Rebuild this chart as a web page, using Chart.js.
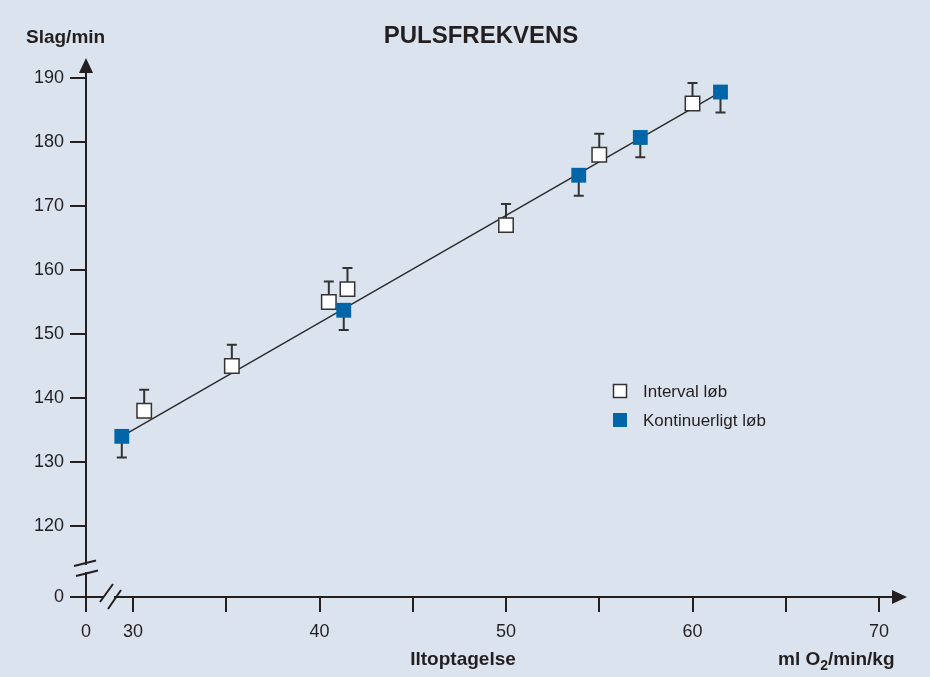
<!DOCTYPE html>
<html>
<head>
<meta charset="utf-8">
<script src="https://cdn.jsdelivr.net/npm/chart.js@4.4.0/dist/chart.umd.min.js"></script>
<style>
  html, body { margin: 0; padding: 0; background: #dbe3ef; }
  #wrap { width: 930px; height: 677px; position: relative; }
</style>
</head>
<body>
<div id="wrap"><canvas id="chart" width="930" height="677"></canvas></div>
<script>
// data
const xTicks = [30, 35, 40, 45, 50, 55, 60, 65, 70];
const yTicks = [120, 130, 140, 150, 160, 170, 180, 190];

const intervalX = [30.6, 35.3, 40.5, 41.5, 50.0, 55.0, 60.0];
const intervalY = [138, 145, 155, 157, 167, 178, 186];
const intervalErr = [3.3, 3.3, 3.2, 3.3, 3.3, 3.3, 3.2];

const kontX = [29.4, 41.3, 53.9, 57.2, 61.5];
const kontY = [134, 153.7, 174.8, 180.7, 187.8];
const kontErr = [3.3, 3.1, 3.2, 3.1, 3.2];

const lineX = [29.4, 61.5];
const lineY = [134, 187.8];

// the broken axes: where the "0" sits on each scale
const xZero = 27.48;
const yZero = 108.9;

const BG = "#dbe3ef";
const INK = "#231f20";
const BLUE = "#0066a9";
const FONT = "'Liberation Sans', Arial, sans-serif";

function pts(xs, ys) {
  return xs.map(function (x, i) { return { x: x, y: ys[i] }; });
}

// error bars, axis arrows, axis breaks, titles, legend
const extras = {
  id: "extras",
  beforeDatasetsDraw: function (chart) {
    const ctx = chart.ctx;
    const xs = chart.scales.x, ys = chart.scales.y;
    ctx.save();
    ctx.strokeStyle = "#333";
    ctx.lineWidth = 2;
    function bar(x, y, err, dir) {
      const px = xs.getPixelForValue(x);
      const py = ys.getPixelForValue(y);
      const pe = ys.getPixelForValue(y + dir * err);
      ctx.beginPath();
      ctx.moveTo(px, py);
      ctx.lineTo(px, pe);
      ctx.moveTo(px - 5, pe);
      ctx.lineTo(px + 5, pe);
      ctx.stroke();
    }
    intervalX.forEach(function (x, i) { bar(x, intervalY[i], intervalErr[i], 1); });
    kontX.forEach(function (x, i) { bar(x, kontY[i], kontErr[i], -1); });
    ctx.restore();
  },
  afterDraw: function (chart) {
    const ctx = chart.ctx;
    const a = chart.chartArea;
    ctx.save();
    ctx.fillStyle = INK;
    ctx.strokeStyle = INK;

    // arrow heads
    ctx.beginPath();
    ctx.moveTo(a.left - 7, a.top + 1);
    ctx.lineTo(a.left + 7, a.top + 1);
    ctx.lineTo(a.left, a.top - 14);
    ctx.closePath();
    ctx.fill();
    ctx.beginPath();
    ctx.moveTo(a.right - 1, a.bottom - 7);
    ctx.lineTo(a.right - 1, a.bottom + 7);
    ctx.lineTo(a.right + 14, a.bottom);
    ctx.closePath();
    ctx.fill();

    // y axis break
    ctx.fillStyle = BG;
    ctx.fillRect(a.left - 3, 565, 6, 7);
    ctx.lineWidth = 2;
    ctx.beginPath();
    ctx.moveTo(a.left - 12, 566);
    ctx.lineTo(a.left + 10, 560.5);
    ctx.moveTo(a.left - 10, 576);
    ctx.lineTo(a.left + 12, 570.5);
    ctx.stroke();

    // x axis break
    ctx.fillRect(104, a.bottom - 3, 10, 6);
    ctx.beginPath();
    ctx.moveTo(100, 602);
    ctx.lineTo(113, 584);
    ctx.moveTo(108, 609);
    ctx.lineTo(121, 590);
    ctx.stroke();

    // texts
    ctx.fillStyle = INK;
    ctx.textBaseline = "alphabetic";
    ctx.textAlign = "center";
    ctx.font = "bold 24px " + FONT;
    ctx.fillText("PULSFREKVENS", 481, 43);
    ctx.textAlign = "left";
    ctx.font = "bold 19px " + FONT;
    ctx.fillText("Slag/min", 26, 43);
    ctx.textAlign = "center";
    ctx.font = "bold 19px " + FONT;
    ctx.fillText("Iltoptagelse", 463, 665);
    // ml O2/min/kg with subscript
    ctx.textAlign = "left";
    let x = 778;
    const parts = [["ml O", 19, 665], ["2", 14, 670], ["/min/kg", 19, 665]];
    parts.forEach(function (p) {
      ctx.font = "bold " + p[1] + "px " + FONT;
      ctx.fillText(p[0], x, p[2]);
      x += ctx.measureText(p[0]).width;
    });

    // legend
    const ds = chart.data.datasets;
    const rows = [[ds[0], 391], [ds[1], 420]];
    rows.forEach(function (r) {
      const d = r[0];
      ctx.fillStyle = d.backgroundColor;
      ctx.fillRect(613, r[1] - 7, 14, 14);
      if (d.borderWidth > 0) {
        ctx.strokeStyle = d.borderColor;
        ctx.lineWidth = 1.5;
        ctx.strokeRect(613.5, r[1] - 6.5, 13, 13);
      }
      ctx.fillStyle = INK;
      ctx.font = "17px " + FONT;
      ctx.textAlign = "left";
      ctx.textBaseline = "middle";
      ctx.fillText(d.label, 643, r[1] + 1);
    });
    ctx.restore();
  }
};

new Chart(document.getElementById("chart"), {
  type: "scatter",
  data: {
    datasets: [
      {
        label: "Interval løb",
        data: pts(intervalX, intervalY),
        pointStyle: "rect",
        pointRadius: 10.2,
        backgroundColor: "#ffffff",
        borderColor: "#333333",
        borderWidth: 1.5,
        order: 1,
      },
      {
        label: "Kontinuerligt løb",
        data: pts(kontX, kontY),
        pointStyle: "rect",
        pointRadius: 10.5,
        backgroundColor: BLUE,
        borderColor: BLUE,
        borderWidth: 0,
        order: 0,
      },
      {
        type: "line",
        label: "fit",
        data: pts(lineX, lineY),
        borderColor: "#2a2a2a",
        borderWidth: 1.4,
        pointRadius: 0,
        fill: false,
        order: 2,
      },
    ],
  },
  options: {
    responsive: false,
    animation: false,
    events: [],
    layout: { padding: { left: 0, top: 72, right: 37, bottom: 40 } },
    plugins: { legend: { display: false }, tooltip: { enabled: false }, title: { display: false } },
    scales: {
      x: {
        type: "linear",
        min: xZero,
        max: 70.75,
        afterBuildTicks: function (s) {
          s.ticks = [xZero].concat(xTicks).map(function (v) { return { value: v }; });
        },
        afterFit: function (s) { s.height = 40; },
        ticks: {
          autoSkip: false,
          maxRotation: 0,
          padding: 9,
          color: INK,
          font: { family: FONT, size: 18 },
          callback: function (v) {
            if (v === xZero) return "0";
            return v % 10 === 0 ? String(v) : "";
          },
        },
        grid: { drawOnChartArea: false, drawTicks: true, tickLength: 15, color: INK, lineWidth: 2 },
        border: { display: true, color: INK, width: 2 },
      },
      y: {
        type: "linear",
        min: yZero,
        max: 190.93,
        afterBuildTicks: function (s) {
          s.ticks = [yZero].concat(yTicks).map(function (v) { return { value: v }; });
        },
        afterFit: function (s) { s.width = 86; },
        ticks: {
          autoSkip: false,
          padding: 6,
          color: INK,
          font: { family: FONT, size: 18 },
          callback: function (v) { return v === yZero ? "0" : String(v); },
        },
        grid: { drawOnChartArea: false, drawTicks: true, tickLength: 16, color: INK, lineWidth: 2 },
        border: { display: true, color: INK, width: 2 },
      },
    },
  },
  plugins: [extras],
});
</script>
</body>
</html>
